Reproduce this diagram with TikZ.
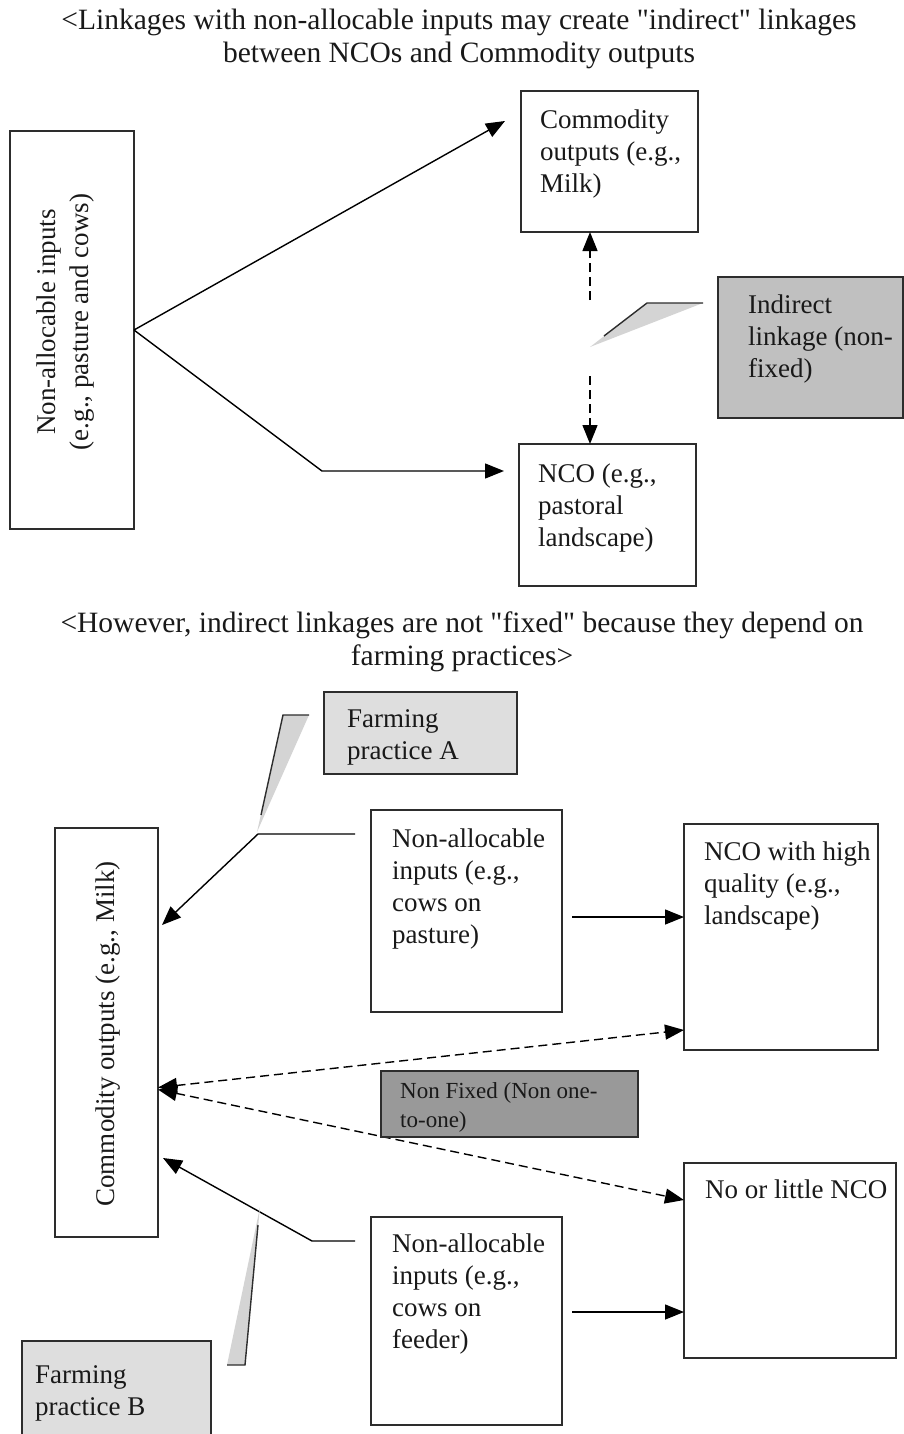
\documentclass[tikz,border=0pt]{standalone}
\usepackage{fontspec}
\setmainfont{Liberation Serif}[Ligatures=TeXOff]
\usetikzlibrary{arrows.meta,calc}

\definecolor{boxline}{RGB}{45,45,45}
\definecolor{linkgray}{RGB}{192,192,192}
\definecolor{farmgray}{RGB}{222,222,222}
\definecolor{fixgray}{RGB}{153,153,153}
\definecolor{wedgegray}{RGB}{212,212,212}

\tikzset{
  >={Triangle[length=19pt,width=15pt]},
  box/.style={draw=boxline, line width=1.5pt, inner sep=0pt, outer sep=0pt},
  txt/.style={inner sep=0pt, anchor=north west, align=left, text=black!90, font=\fontsize{27}{32}\selectfont},
  rot/.style={inner sep=0pt, rotate=90, align=center, text=black!90, font=\fontsize{27}{33}\selectfont},
  ttl/.style={inner sep=0pt, anchor=north, align=center, text=black!90, font=\fontsize{29.5}{33}\selectfont},
  arr/.style={line width=1.4pt, line join=miter, ->},
  dasharr/.style={arr, dash pattern=on 9pt off 5pt},
  dblarr/.style={line width=1.4pt, dash pattern=on 9pt off 5pt, <->},
  wedgeline/.style={line width=1.4pt, draw=boxline},
}

\begin{document}
\begin{tikzpicture}[x=1pt,y=1pt,yscale=-1]
\useasboundingbox (0,0) rectangle (903,1434);

% Text Node
\node[ttl] (title1) at (459,9) {<Linkages with non-allocable inputs may create "indirect" linkages\\between NCOs and Commodity outputs};

%Shape: Rectangle
\node[box, minimum width=124, minimum height=398] (inTop) at (72,330) {};
\node[rot] (inTopT) at (66,322) {Non-allocable inputs\\(e.g., pasture and cows)};
%Shape: Rectangle
\node[box, minimum width=177, minimum height=141] (comTop) at (609.5,161.5) {};
\node[txt] (comTopT) at (540,110) {Commodity\\outputs (e.g.,\\Milk)};
%Shape: Rectangle
\node[box, minimum width=177, minimum height=142] (ncoTop) at (607.5,515) {};
\node[txt] (ncoTopT) at (538,464) {NCO (e.g.,\\pastoral\\landscape)};
%Shape: Rectangle
\node[box, fill=linkgray, minimum width=185, minimum height=141] (linkBox) at (810.5,347.5) {};
\node[txt] (linkBoxT) at (748,295) {Indirect\\linkage (non-\\fixed)};

%Straight Lines
\coordinate (bendA) at (322,471);
\draw[arr] (inTop.east) -- ($(comTop.north west)+(-16,30)$);
\draw[arr] (inTop.east) -- (bendA) -- ($(ncoTop.north west)+(-15,27)$);

%Dashed Lines
\coordinate (dashUp) at (590,300);
\coordinate (dashDn) at (590,376);
\draw[dasharr] (dashUp) -- (dashUp |- comTop.south);
\draw[dasharr] (dashDn) -- (dashDn |- ncoTop.north);

%Shape: Callout
\fill[wedgegray] (703,303) -- (647,303) -- (590,347) -- cycle;
\draw[wedgeline] (703,303) -- (647,303) -- (604,336);

% Text Node
\node[ttl] (title2) at (462,612) {<However, indirect linkages are not "fixed" because they depend on\\farming practices>};

%Shape: Rectangle
\node[box, fill=farmgray, minimum width=193, minimum height=82] (farmA) at (420.5,733) {};
\node[txt] (farmAT) at (347,709) {Farming\\practice A};
%Shape: Rectangle
\node[box, minimum width=103, minimum height=409] (com2) at (106.5,1032.5) {};
\node[rot] (com2T) at (108,1034) {Commodity outputs (e.g., Milk)};
%Shape: Rectangle
\node[box, minimum width=191, minimum height=202] (inA) at (466.5,911) {};
\node[txt] (inAT) at (392,829) {Non-allocable\\inputs (e.g.,\\cows on\\pasture)};
%Shape: Rectangle
\node[box, minimum width=194, minimum height=226] (ncoH) at (781,937) {};
\node[txt] (ncoHT) at (704,842) {NCO with high\\quality (e.g.,\\landscape)};
%Shape: Rectangle
\node[box, minimum width=212, minimum height=195] (noN) at (790,1260.5) {};
\node[txt] (noNT) at (705,1180) {No or little NCO};
%Shape: Rectangle
\node[box, minimum width=191, minimum height=208] (inB) at (466.5,1321) {};
\node[txt] (inBT) at (392,1234) {Non-allocable\\inputs (e.g.,\\cows on\\feeder)};
%Shape: Rectangle
\node[box, fill=farmgray, minimum width=189, minimum height=102] (farmB) at (116.5,1392) {};
\node[txt] (farmBT) at (35,1365) {Farming\\practice B};

%Straight Lines
\coordinate (bendB) at (258,834);
\coordinate (bendC) at (312,1241);
\draw[arr] ($(inA.north west)+(-16,24)$) -- (bendB) -- ($(com2.north east)+(4,97)$);
\draw[arr] ($(inB.north west)+(-16,24)$) -- (bendC) -- ($(com2.south east)+(5,-79)$);
\draw[arr] ($(inA.east)+(10,6)$) -- ($(ncoH.north west)+(0,93)$);
\draw[arr] ($(inB.east)+(10,-9)$) -- ($(noN.north west)+(0,149)$);

%Dashed Lines
\draw[dblarr] ($(com2.east)+(0,55)$) -- ($(ncoH.south west)+(0,-20)$);
\draw[dblarr] ($(com2.east)+(0,57)$) -- ($(noN.north west)+(0,37)$);

%Shape: Callout
\fill[wedgegray] (309,715) -- (283,715) -- (257,832) -- cycle;
\draw[wedgeline] (309,715) -- (283,715) -- (261,815);
%Shape: Callout
\fill[wedgegray] (227,1365) -- (245,1365) -- (260,1207) -- cycle;
\draw[wedgeline] (227,1365) -- (245,1365) -- (258,1225);

%Shape: Rectangle
\node[box, fill=fixgray, minimum width=257, minimum height=66] (fixBox) at (509.5,1104) {};
\node[txt, font=\fontsize{23}{29}\selectfont] (fixBoxT) at (400,1082) {Non Fixed (Non one-\\to-one)};

\end{tikzpicture}
\end{document}
